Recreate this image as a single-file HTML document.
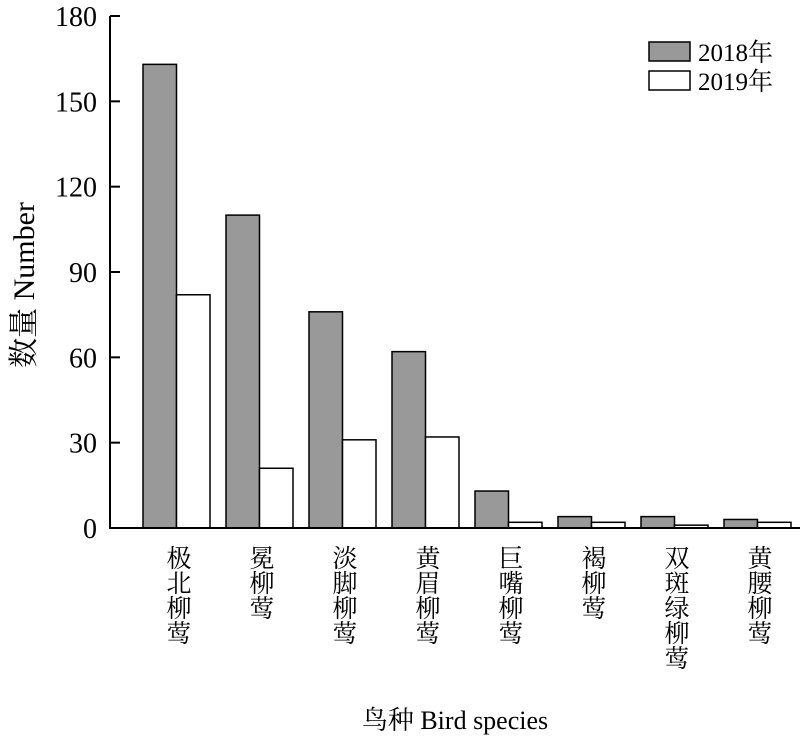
<!DOCTYPE html>
<html><head><meta charset="utf-8"><style>
body{margin:0;background:#fff;}
svg text{font-family:"Liberation Serif","Noto Serif CJK SC",serif;fill:#000;}
</style></head><body>
<svg width="800" height="737">
<g id="bars"></g>
<g id="axes"></g>
<g>
<rect x="649" y="42" width="41" height="19" fill="#999" stroke="#000" stroke-width="1.5"/>
<text x="698" y="61" font-size="25">2018年</text>
<rect x="649" y="71" width="41" height="19" fill="#fff" stroke="#000" stroke-width="1.5"/>
<text x="698" y="90" font-size="25">2019年</text>
</g>
<text x="0" y="0" font-size="30" text-anchor="middle" transform="translate(34,285) rotate(-90)">数量 Number</text>
<text x="455" y="729" font-size="26" text-anchor="middle">鸟种 Bird species</text>
</svg>
<script>
const categories=["极北柳莺","冕柳莺","淡脚柳莺","黄眉柳莺","巨嘴柳莺","褐柳莺","双斑绿柳莺","黄腰柳莺"];
const values2018=[163,110,76,62,13,4,4,3];
const values2019=[82,21,31,32,2,2,1,2];
const yTicks=[0,30,60,90,120,150,180];
const NS="http://www.w3.org/2000/svg";
const y0=528,yTop=16,xAxis=110;
function y(v){return y0-(v/180)*(y0-yTop);}
function gx(i){return 143+i*83;}
const bw=33.5;
const bars=document.getElementById('bars'),axes=document.getElementById('axes');
function mk(p,tag,a){const e=document.createElementNS(NS,tag);for(const k in a)e.setAttribute(k,a[k]);p.appendChild(e);return e;}
categories.forEach((c,i)=>{
 const r1=mk(bars,'rect',{x:gx(i),y:y(values2018[i]),width:bw,height:y0-y(values2018[i]),fill:'#999',stroke:'#000','stroke-width':1.5});
 
 
 const r2=mk(bars,'rect',{x:gx(i)+bw,y:y(values2019[i]),width:bw,height:y0-y(values2019[i]),fill:'#fff',stroke:'#000','stroke-width':1.5});
 
 
 const t=mk(axes,'text',{x:gx(i)+bw,y:545,'font-size':25,style:'writing-mode:vertical-rl;text-orientation:upright;'});
 t.textContent=c;
 
 
});
const ax=mk(axes,'path',{d:`M${xAxis},${yTop} V${y0} H800`,fill:'none',stroke:'#000','stroke-width':2});


yTicks.forEach(v=>{
 const l=mk(axes,'line',{x1:xAxis,x2:xAxis+10,y1:y(v),y2:y(v),stroke:'#000','stroke-width':2});
 
 
 const t=mk(axes,'text',{x:97,y:y(v)+10,'font-size':28,'text-anchor':'end'});
 t.textContent=v;
 
 
});
</script>
</body></html>
